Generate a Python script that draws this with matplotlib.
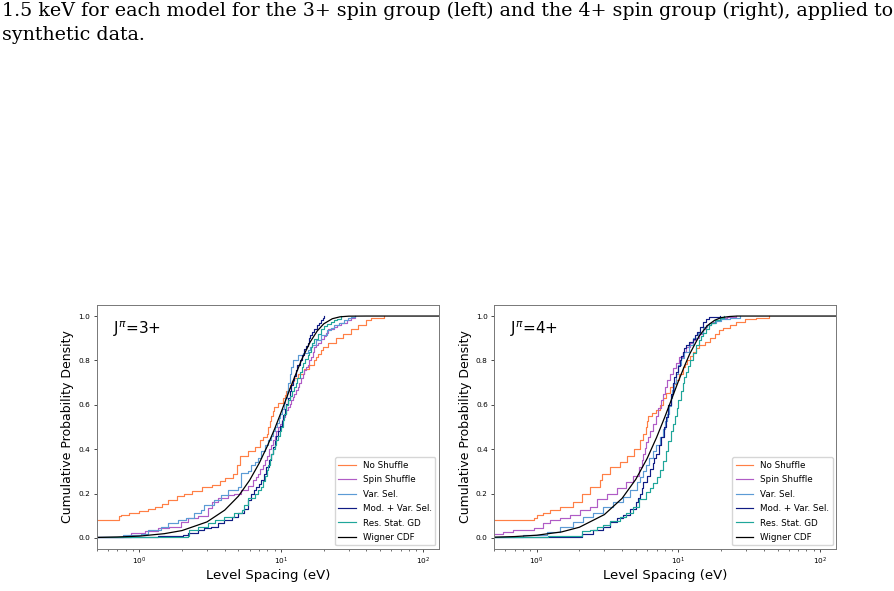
import numpy as np
import matplotlib
matplotlib.use("Agg")
import matplotlib.pyplot as plt

caption = ("1.5 keV for each model for the 3+ spin group (left) and the 4+ spin group (right), applied to\n"
           "synthetic data.")

labels = ["No Shuffle", "Spin Shuffle", "Var. Sel.", "Mod. + Var. Sel.", "Res. Stat. GD", "Wigner CDF"]
colors = ["#ff7f45", "#b05cc6", "#5b9bd5", "#101c84", "#1fa69a", "black"]

ns3 = [(0.3, 0.08), (0.72, 0.10), (0.74, 0.105), (0.84, 0.11), (1.0, 0.12), (1.16, 0.13), (1.3, 0.14),
       (1.44, 0.155), (1.6, 0.17), (1.84, 0.19), (2.05, 0.20), (2.34, 0.21), (2.75, 0.23), (3.23, 0.24),
       (3.7, 0.255), (4.0, 0.27), (4.6, 0.29), (4.85, 0.33), (5.1, 0.37), (5.85, 0.39), (6.5, 0.41),
       (7.06, 0.44), (7.5, 0.455), (7.9, 0.47), (8.1, 0.50), (8.3, 0.525), (8.5, 0.55), (8.7, 0.57),
       (8.9, 0.59), (9.5, 0.61), (10.3, 0.63), (10.6, 0.645), (10.85, 0.66), (11.2, 0.675), (11.5, 0.69),
       (12.0, 0.705), (12.4, 0.72), (13.1, 0.74), (14.6, 0.76), (15.8, 0.78), (17.2, 0.80), (17.6, 0.815),
       (18.1, 0.83), (19.0, 0.845), (19.7, 0.86), (21.4, 0.88), (24.5, 0.90), (27.2, 0.92), (31.1, 0.94),
       (34.7, 0.96), (39.6, 0.98), (43.0, 0.99), (53.0, 1.0)]
sp3 = [(0.3, 0.006), (0.88, 0.02), (1.09, 0.03), (1.35, 0.043), (1.63, 0.05), (1.97, 0.073), (2.2, 0.088),
       (2.58, 0.10), (3.03, 0.133), (3.28, 0.163), (3.56, 0.178), (4.19, 0.193), (4.67, 0.2), (5.2, 0.215),
       (5.86, 0.235), (6.3, 0.26), (6.6, 0.275), (6.9, 0.29), (7.15, 0.31), (7.4, 0.33), (7.65, 0.35),
       (7.9, 0.37), (8.2, 0.40), (8.5, 0.42), (8.75, 0.44), (9.0, 0.46), (9.25, 0.48), (9.5, 0.5),
       (9.8, 0.515), (10.1, 0.53), (10.35, 0.545), (10.6, 0.56), (10.9, 0.575), (11.2, 0.59), (11.5, 0.605),
       (11.8, 0.62), (12.1, 0.635), (12.4, 0.65), (12.75, 0.665), (13.1, 0.68), (13.45, 0.70), (13.8, 0.72),
       (14.2, 0.74), (14.6, 0.756), (15.0, 0.77), (15.4, 0.78), (15.85, 0.80), (16.3, 0.816), (16.7, 0.84),
       (17.1, 0.86), (17.6, 0.87), (18.1, 0.88), (19.1, 0.895), (20.1, 0.91), (20.8, 0.925), (21.5, 0.94),
       (23.7, 0.95), (25.0, 0.96), (26.4, 0.97), (29.0, 0.98), (31.0, 0.99), (33.0, 1.0)]
vs3 = [(0.3, 0.003), (0.77, 0.0135), (1.03, 0.018), (1.15, 0.036), (1.43, 0.051), (1.59, 0.066),
       (1.87, 0.081), (2.14, 0.088), (2.45, 0.111), (2.73, 0.126), (2.88, 0.148), (3.38, 0.171),
       (3.76, 0.193), (4.19, 0.216), (4.93, 0.231), (5.2, 0.291), (5.8, 0.30), (6.18, 0.33), (6.5, 0.34),
       (6.88, 0.36), (7.2, 0.39), (7.67, 0.42), (8.1, 0.44), (8.55, 0.46), (8.8, 0.48), (9.0, 0.5),
       (9.3, 0.52), (9.6, 0.54), (9.9, 0.56), (10.2, 0.58), (10.45, 0.61), (10.7, 0.63), (10.95, 0.66),
       (11.2, 0.70), (11.5, 0.74), (11.8, 0.77), (12.2, 0.80), (13.1, 0.823), (14.2, 0.835), (15.4, 0.845),
       (16.0, 0.86), (16.5, 0.868), (17.5, 0.89), (19.1, 0.913), (21.0, 0.935), (22.5, 0.945),
       (23.7, 0.958), (25.5, 0.97), (27.9, 0.98), (29.5, 0.99), (31.0, 0.995), (33.0, 1.0)]
mv3 = [(0.3, 0.003), (1.35, 0.008), (2.03, 0.013), (2.2, 0.021), (2.58, 0.036), (2.88, 0.043), (3.2, 0.051),
       (3.56, 0.066), (3.97, 0.081), (4.47, 0.095), (4.93, 0.111), (5.49, 0.13), (5.85, 0.17), (6.18, 0.2),
       (6.45, 0.215), (6.7, 0.231), (7.0, 0.245), (7.27, 0.261), (7.6, 0.29), (7.87, 0.319), (8.2, 0.35),
       (8.55, 0.379), (8.8, 0.41), (9.0, 0.438), (9.25, 0.46), (9.5, 0.48), (9.8, 0.505), (10.1, 0.528),
       (10.35, 0.555), (10.6, 0.58), (10.9, 0.605), (11.2, 0.63), (11.5, 0.66), (11.8, 0.69), (12.1, 0.71),
       (12.4, 0.73), (12.7, 0.755), (13.0, 0.778), (13.5, 0.80), (14.0, 0.825), (14.5, 0.85), (15.0, 0.865),
       (15.4, 0.88), (15.8, 0.9), (16.1, 0.913), (16.6, 0.93), (17.0, 0.94), (17.9, 0.958), (18.5, 0.97),
       (19.0, 0.98), (19.6, 0.99), (20.2, 1.0)]
gd3 = [(0.3, 0.003), (1.0, 0.006), (2.2, 0.01), (2.25, 0.035), (2.58, 0.051), (3.03, 0.066), (3.42, 0.08),
       (3.97, 0.096), (4.67, 0.11), (5.26, 0.126), (5.49, 0.148), (5.86, 0.178), (6.5, 0.20), (6.9, 0.215),
       (7.27, 0.23), (7.5, 0.255), (7.67, 0.28), (7.9, 0.305), (8.1, 0.33), (8.3, 0.355), (8.5, 0.38),
       (8.75, 0.40), (9.0, 0.42), (9.25, 0.44), (9.5, 0.46), (9.75, 0.48), (10.0, 0.50), (10.25, 0.53),
       (10.5, 0.56), (10.85, 0.60), (11.2, 0.62), (11.5, 0.64), (12.0, 0.66), (12.4, 0.68), (12.7, 0.70),
       (13.0, 0.72), (13.7, 0.75), (14.0, 0.77), (14.3, 0.79), (14.8, 0.805), (15.4, 0.823), (15.8, 0.84),
       (16.2, 0.86), (16.6, 0.88), (17.1, 0.898), (18.2, 0.92), (19.1, 0.943), (20.1, 0.955), (21.2, 0.965),
       (22.5, 0.973), (23.8, 0.98), (25.0, 0.988), (26.4, 1.0)]
wig3 = [(0.3, 0.001), (0.5, 0.002), (0.7, 0.004), (1.0, 0.008), (1.5, 0.019), (2.0, 0.033), (3.0, 0.072),
        (4.0, 0.125), (5.0, 0.188), (6.0, 0.260), (7.0, 0.336), (8.0, 0.414), (9.0, 0.491), (10.0, 0.566),
        (11.0, 0.636), (12.0, 0.699), (14.0, 0.805), (16.0, 0.882), (18.0, 0.933), (20.0, 0.965),
        (23.0, 0.988), (26.0, 0.9965), (30.0, 0.9995), (40.0, 1.0), (200.0, 1.0)]

# 4+ group
ns4 = [(0.3, 0.08), (0.95, 0.09), (1.0, 0.103), (1.11, 0.11), (1.24, 0.126), (1.46, 0.141), (1.81, 0.163),
       (2.08, 0.20), (2.38, 0.23), (2.8, 0.26), (2.9, 0.29), (3.3, 0.32), (3.87, 0.343), (4.32, 0.37),
       (4.82, 0.40), (5.36, 0.44), (5.6, 0.47), (5.9, 0.50), (6.0, 0.525), (6.1, 0.55), (6.5, 0.565),
       (6.95, 0.576), (7.35, 0.60), (7.76, 0.63), (8.2, 0.655), (8.65, 0.68), (9.1, 0.695), (9.6, 0.71),
       (10.1, 0.74), (10.7, 0.77), (11.1, 0.785), (11.5, 0.80), (12.0, 0.82), (12.6, 0.838), (13.3, 0.855),
       (14.0, 0.87), (15.3, 0.885), (16.6, 0.90), (18.0, 0.92), (19.2, 0.935), (20.5, 0.945), (23.0, 0.96),
       (25.5, 0.975), (29.5, 0.985), (35.0, 0.99), (43.8, 1.0)]
sp4 = [(0.3, 0.012), (0.5, 0.018), (0.58, 0.028), (0.68, 0.036), (0.95, 0.043), (1.11, 0.066),
       (1.24, 0.081), (1.46, 0.088), (1.72, 0.103), (2.02, 0.126), (2.38, 0.141), (2.65, 0.175),
       (3.12, 0.20), (3.67, 0.223), (4.27, 0.25), (4.76, 0.28), (5.3, 0.32), (5.5, 0.35), (5.66, 0.38),
       (5.8, 0.405), (5.9, 0.43), (6.1, 0.455), (6.3, 0.48), (6.6, 0.515), (6.95, 0.55), (7.2, 0.585),
       (7.5, 0.62), (7.75, 0.65), (8.0, 0.68), (8.3, 0.71), (8.65, 0.74), (9.1, 0.765), (9.6, 0.79),
       (10.1, 0.815), (10.7, 0.84), (11.3, 0.86), (12.0, 0.88), (12.6, 0.89), (13.3, 0.90), (14.0, 0.92),
       (14.8, 0.94), (15.6, 0.958), (16.5, 0.967), (17.5, 0.975), (18.5, 0.983), (19.5, 0.99), (22.0, 0.995),
       (25.5, 1.0)]
vs4 = [(0.3, 0.006), (0.8, 0.013), (1.18, 0.028), (1.46, 0.05), (1.81, 0.073), (2.13, 0.093), (2.51, 0.111),
       (2.95, 0.141), (3.47, 0.163), (4.09, 0.186), (4.55, 0.216), (5.07, 0.25), (5.35, 0.275), (5.6, 0.30),
       (5.9, 0.33), (6.23, 0.358), (6.6, 0.39), (6.94, 0.42), (7.35, 0.455), (7.75, 0.49), (8.0, 0.525),
       (8.3, 0.56), (8.55, 0.595), (8.8, 0.63), (9.05, 0.665), (9.3, 0.70), (9.6, 0.74), (9.9, 0.78),
       (10.4, 0.81), (11.0, 0.84), (11.8, 0.87), (12.6, 0.90), (13.8, 0.925), (15.0, 0.95), (16.0, 0.96),
       (17.0, 0.97), (18.5, 0.978), (20.0, 0.985), (23.0, 0.993), (27.0, 1.0)]
mv4 = [(0.3, 0.003), (2.08, 0.006), (2.1, 0.018), (2.51, 0.036), (2.95, 0.051), (3.3, 0.07), (3.67, 0.088),
       (4.09, 0.103), (4.52, 0.13), (5.0, 0.16), (5.2, 0.18), (5.36, 0.2), (5.5, 0.225), (5.66, 0.25),
       (6.0, 0.28), (6.3, 0.31), (6.58, 0.336), (6.75, 0.36), (6.94, 0.38), (7.25, 0.42), (7.55, 0.456),
       (7.85, 0.50), (8.18, 0.546), (8.5, 0.60), (8.85, 0.65), (9.1, 0.70), (9.35, 0.725), (9.6, 0.75),
       (9.9, 0.775), (10.2, 0.8), (10.45, 0.82), (10.7, 0.84), (11.0, 0.855), (11.3, 0.87), (11.9, 0.885),
       (12.6, 0.898), (13.0, 0.915), (13.5, 0.93), (14.1, 0.95), (14.8, 0.973), (15.6, 0.985), (16.5, 0.995),
       (19.5, 1.0)]
gd4 = [(0.3, 0.005), (1.2, 0.01), (2.1, 0.03), (2.38, 0.036), (2.65, 0.048), (2.95, 0.058), (3.3, 0.078),
       (3.84, 0.096), (4.27, 0.111), (4.76, 0.141), (5.3, 0.175), (5.91, 0.208), (6.25, 0.225),
       (6.58, 0.246), (7.0, 0.275), (7.35, 0.306), (7.75, 0.345), (8.18, 0.39), (8.5, 0.435), (8.9, 0.48),
       (9.2, 0.515), (9.5, 0.55), (9.75, 0.585), (10.0, 0.62), (10.35, 0.66), (10.7, 0.70), (11.0, 0.725),
       (11.3, 0.75), (11.65, 0.775), (12.0, 0.80), (12.6, 0.835), (13.3, 0.87), (13.9, 0.89), (14.5, 0.91),
       (15.0, 0.925), (15.6, 0.943), (16.3, 0.958), (17.0, 0.97), (18.2, 0.98), (19.5, 0.99), (21.0, 1.0)]
wig4 = [(0.3, 0.001), (0.5, 0.003), (0.7, 0.006), (1.0, 0.012), (1.5, 0.027), (2.0, 0.048), (3.0, 0.105),
        (4.0, 0.178), (5.0, 0.264), (6.0, 0.357), (7.0, 0.452), (8.0, 0.544), (9.0, 0.630), (10.0, 0.707),
        (11.0, 0.773), (12.0, 0.829), (14.0, 0.910), (16.0, 0.957), (18.0, 0.981), (20.0, 0.993),
        (23.0, 0.998), (26.0, 1.0), (200.0, 1.0)]

panels = [("J$^{\\pi}$=3+", [ns3, sp3, vs3, mv3, gd3], wig3),
          ("J$^{\\pi}$=4+", [ns4, sp4, vs4, mv4, gd4], wig4)]

fig = plt.figure(figsize=(8.95, 5.91), dpi=100)
fig.text(0.002, 0.997, caption, family="DejaVu Serif", fontsize=13.7, va="top", ha="left",
         linespacing=1.45)

lefts = [0.108, 0.552]
for left, (title, series, wig) in zip(lefts, panels):
    ax = fig.add_axes([left, 0.0711, 0.3825, 0.4129])
    for pts, lab, col in zip(series, labels, colors):
        x, y = np.array(pts).T
        ax.plot(x, y, drawstyle="steps-post", color=col, lw=0.85, label=lab)
    wx, wy = np.array(wig).T
    ax.plot(wx, wy, color=colors[-1], lw=0.9, label=labels[-1])

    ax.set_xscale("log")
    ax.set_xlim(0.5, 130)
    ax.set_ylim(-0.05, 1.05)
    ax.set_yticks([0.0, 0.2, 0.4, 0.6, 0.8, 1.0])
    ax.tick_params(labelsize=5.3, length=2.5, width=0.5, pad=2)
    ax.tick_params(which="minor", length=1.5, width=0.4)
    for s in ax.spines.values():
        s.set_color("#777777")
        s.set_linewidth(0.7)
    ax.set_xlabel("Level Spacing (eV)", fontsize=9.5, labelpad=2)
    ax.set_ylabel("Cumulative Probability Density", fontsize=9, labelpad=3)
    ax.text(0.048, 0.90, title, transform=ax.transAxes, fontsize=11, ha="left", va="center")
    ax.legend(loc="lower right", fontsize=6.3, borderaxespad=0.4, handlelength=2.0, labelspacing=0.62)

fig.savefig("out.png", dpi=100)
